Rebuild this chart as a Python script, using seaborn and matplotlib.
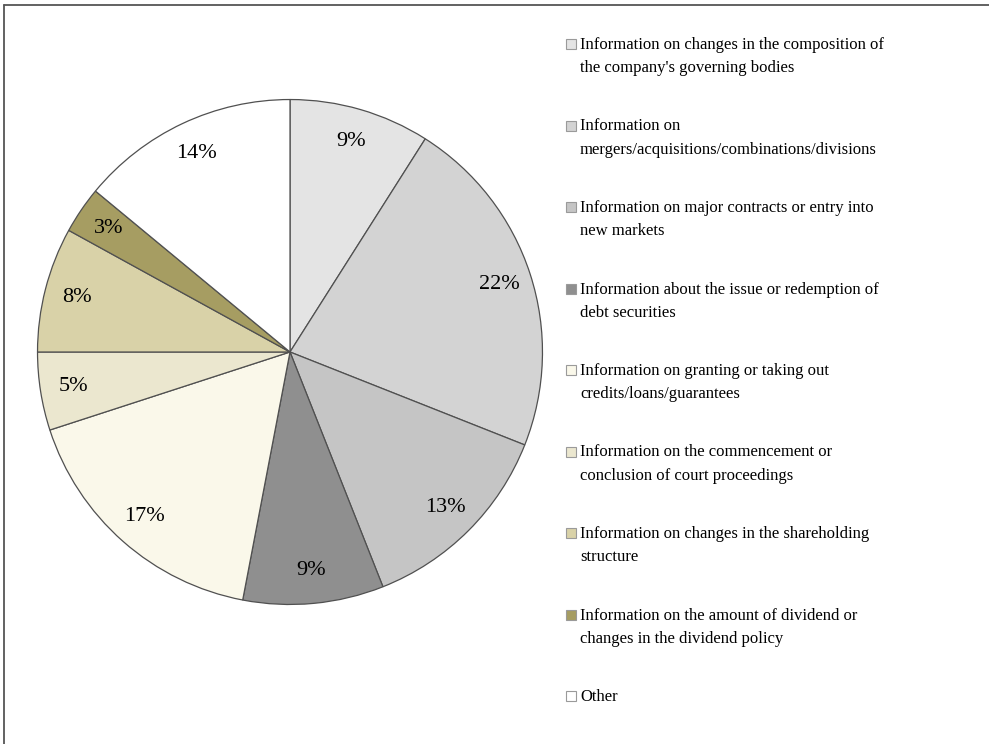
import matplotlib
matplotlib.use("Agg")
from matplotlib import pyplot as plt
from matplotlib.patches import Rectangle
import seaborn as sns

# data
categories = [
    "Information on changes in the composition of\nthe company's governing bodies",
    "Information on\nmergers/acquisitions/combinations/divisions",
    "Information on major contracts or entry into\nnew markets",
    "Information about the issue or redemption of\ndebt securities",
    "Information on granting or taking out\ncredits/loans/guarantees",
    "Information on the commencement or\nconclusion of court proceedings",
    "Information on changes in the shareholding\nstructure",
    "Information on the amount of dividend or\nchanges in the dividend policy",
    "Other",
]
shares = [9, 22, 13, 9, 17, 5, 8, 3, 14]
colors = ["#e4e4e4", "#d3d3d3", "#c5c5c5", "#8f8f8f", "#faf8ea",
          "#ebe7cf", "#d9d2a8", "#a69d62", "#ffffff"]

sns.set_theme(style="white")
plt.rcParams["font.family"] = ["Liberation Serif", "DejaVu Serif"]

W, H = 989, 744
fig = plt.figure(figsize=(W / 100, H / 100), dpi=100)
fig.patch.set_facecolor("white")

# pie: centre (290, 352) px, radius 255 px
cx, cy, r = 290, 352, 255
ax = fig.add_axes([(cx - r) / W, (H - cy - r) / H, 2 * r / W, 2 * r / H])
wedges, texts = ax.pie(
    shares, colors=colors, startangle=90, counterclock=False,
    labels=[f"{v}%" for v in shares], labeldistance=0.87,
    wedgeprops=dict(edgecolor="#505050", linewidth=0.9),
    textprops=dict(fontsize=16, color="black"),
)
for t in texts:
    t.set_horizontalalignment("center")
    t.set_verticalalignment("center")
ax.set_xlim(-1.01, 1.01)
ax.set_ylim(-1.01, 1.01)
ax.set_aspect("equal")
ax.axis("off")

# overlay in pixel coords for legend and frame
ov = fig.add_axes([0, 0, 1, 1], zorder=5)
ov.set_xlim(0, W)
ov.set_ylim(H, 0)
ov.axis("off")
ov.patch.set_alpha(0)

# frame (top + left edges)
ov.plot([3.5, W], [5, 5], color="#555555", lw=1.3)
ov.plot([3.5, 3.5], [5, H], color="#555555", lw=1.3)

# legend
for i, (lab, col) in enumerate(zip(categories, colors)):
    y0 = 44 + 81.5 * i
    ov.add_patch(Rectangle((566, y0 - 5), 10, 10, facecolor=col,
                           edgecolor="#9a9a9a", lw=0.8))
    ov.text(580, y0 - 7, lab, fontsize=12, va="top", ha="left",
            linespacing=1.6, color="black")

fig.savefig("out.png", dpi=100, facecolor="white")
